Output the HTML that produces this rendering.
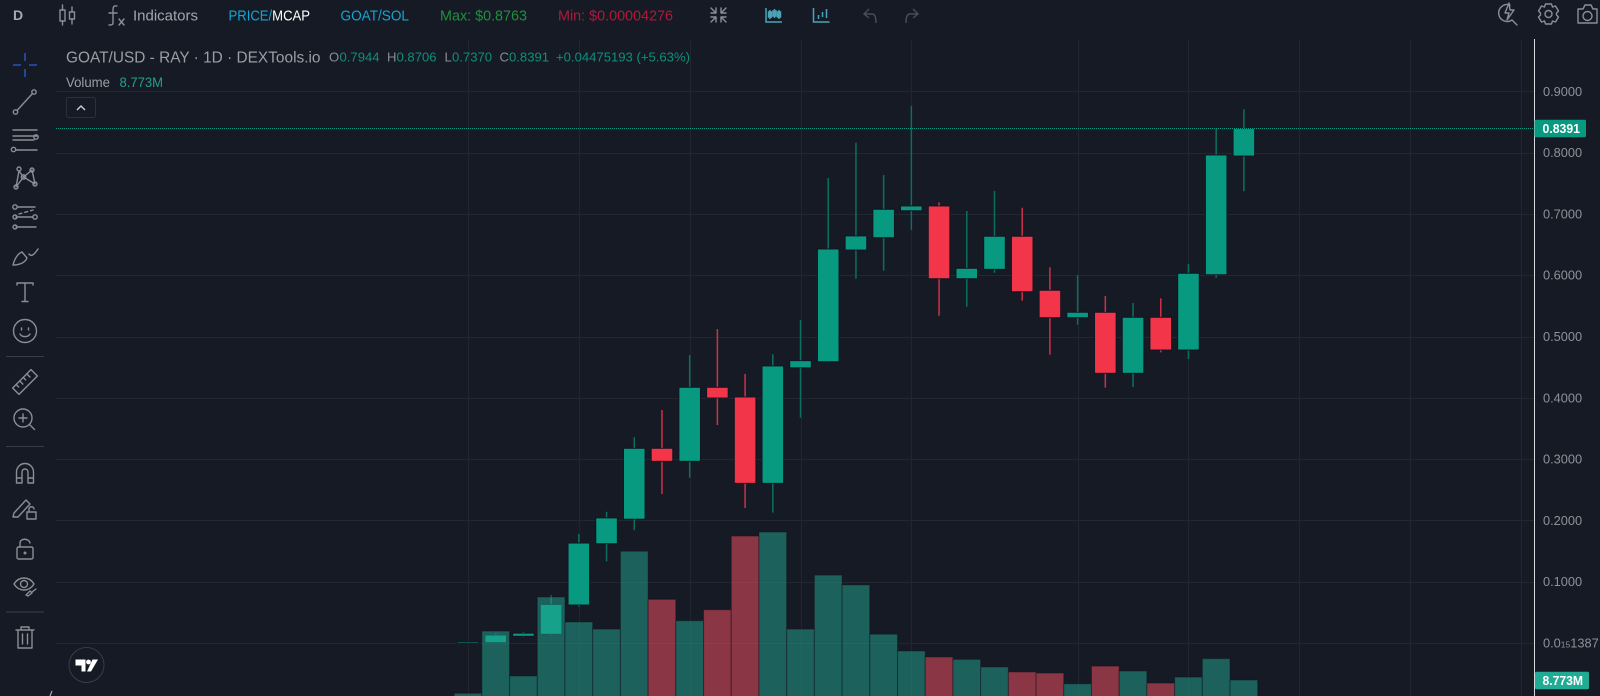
<!DOCTYPE html>
<html lang="en">
<head>
<meta charset="utf-8">
<title>GOAT/USD Candlestick Chart</title>
<style>
html,body{margin:0;padding:0;background:#161a25;width:1600px;height:696px;overflow:hidden}
svg{display:block;font-family:"Liberation Sans",sans-serif}
.ic{fill:none;stroke:#8b8e96;stroke-width:1.4;stroke-linecap:round;stroke-linejoin:round}
.ic2{fill:none;stroke:#4aa3b8;stroke-width:1.5}
.ic3{fill:none;stroke:#4a4d57;stroke-width:1.4}
</style>
</head>
<body>
<svg id="chart" xmlns="http://www.w3.org/2000/svg" width="1600" height="696" viewBox="0 0 1600 696">
<rect x="0" y="0" width="1600" height="696" fill="#161a25"/>
<g id="grid"></g>
<g id="candles"></g>
<g id="volumes"></g>
<g id="overlay"></g>
<line x1="1534.5" y1="39" x2="1534.5" y2="696" stroke="#d8d9dc" stroke-width="1"/>
<g id="yaxis"></g>

<!-- top toolbar -->
<g>
<text x="13" y="20" font-size="14" font-weight="bold" fill="#a8aab0">D</text>
<g class="ic" transform="translate(59,5)">
<rect x="1" y="5" width="5" height="11"/><path d="M3.5 0V5M3.5 16V20"/><rect x="10.5" y="7" width="5" height="7"/><path d="M13 2V7M13 14V19"/>
</g>
<g class="ic" transform="translate(108,5)">
<path d="M9 1C5 0 5 3 5 6V18C5 20 3 20 1 20M1 8H9"/><path d="M11 14L16 20M16 14L11 20"/>
</g>
<text x="133" y="20.500" font-size="15" fill="#a3a5ab" textLength="65" lengthAdjust="spacingAndGlyphs">Indicators</text>
<text x="228.500" y="20.500" font-size="15" textLength="81.500" lengthAdjust="spacingAndGlyphs"><tspan fill="#12a5d6">PRICE/</tspan><tspan fill="#ffffff">MCAP</tspan></text>
<text x="340.500" y="20.500" font-size="15" fill="#12a5d6" textLength="68.500" lengthAdjust="spacingAndGlyphs">GOAT/SOL</text>
<text x="440" y="20.500" font-size="15" fill="#1f8f3d" textLength="87" lengthAdjust="spacingAndGlyphs">Max: $0.8763</text>
<text x="558" y="20.500" font-size="15" fill="#b3173b" textLength="115" lengthAdjust="spacingAndGlyphs">Min: $0.00004276</text>
<g class="ic" transform="translate(710,7)">
<path d="M1 1L6 6M6 1V6H1M16 1L11 6M11 1V6H16M1 15L6 10M1 10H6V15M16 15L11 10M16 10H11V15"/>
</g>
<g class="ic2" transform="translate(765,7)">
<path d="M1 1V15H17"/><path d="M5 3V12M9.500 2V11M14 3V12"/><rect x="3.500" y="5" width="3" height="5" fill="#4aa3b8"/><rect x="8" y="4" width="3" height="5" fill="#4aa3b8"/><rect x="12.500" y="5" width="3" height="5" fill="#4aa3b8"/>
</g>
<g class="ic2" transform="translate(812.500,7)">
<path d="M1 1V15H17"/><path d="M6 8V12M10 5V10M14 2V11"/>
</g>
<g class="ic3" transform="translate(863,8)">
<path d="M6 1L1 6L6 10M1 6H9C12 6 13 9 13 15"/>
</g>
<g class="ic3" transform="translate(904,8)">
<path d="M9 1L14 6L9 10M14 6H6C3 6 2 9 2 15"/>
</g>
<g class="ic" transform="translate(1498,3)">
<path d="M12 2A8.500 8.500 0 1 0 14 17L19 22"/><path d="M11 0L7 10H11L9 17L16 7H12Z"/>
</g>
<g class="ic" transform="translate(1548.500,14)">
<circle r="3.500"/><path d="M-3 -10H3L4 -7L7 -8L10 -3L8 -1V1L10 3L7 8L4 7L3 10H-3L-4 7L-7 8L-10 3L-8 1V-1L-10 -3L-7 -8L-4 -7Z"/>
</g>
<g class="ic" transform="translate(1577,4)">
<path d="M1 5H6L8 1H14L16 5H20V19H1Z"/><circle cx="10.500" cy="12" r="4.500"/>
</g>
</g>

<!-- left toolbar -->
<g>
<g fill="none" stroke="#2453b8" stroke-width="1.6" transform="translate(25,65)">
<path d="M-12 0H-4M4 0H12M0 -12V-4M0 4V12"/>
</g>
<g class="ic" transform="translate(25,102)">
<circle cx="-9.500" cy="10" r="2.200"/><circle cx="9" cy="-10" r="2.200"/><path d="M-8 8.500L7.500 -8.500"/>
</g>
<g class="ic" transform="translate(25,140)">
<path d="M-12 -10H12M-12 -4H12M-12 0H9M-9 10H12"/><circle cx="11" cy="-3" r="2.200"/><circle cx="-11.500" cy="9.500" r="2.200"/>
</g>
<g class="ic" transform="translate(25,178)">
<circle cx="-6" cy="-9" r="2"/><circle cx="7" cy="-8" r="2"/><circle cx="-1.500" cy="-1" r="2.200"/><circle cx="-9" cy="9" r="2"/><circle cx="10" cy="6" r="2"/>
<path d="M-6 -7L-1.500 -1L7 -8L10 6L-1.500 -1L-9 9L-6 -7"/>
</g>
<g class="ic" transform="translate(25,217)">
<circle cx="-10" cy="-10" r="2.200"/><path d="M-8 -10H10M-9 0H8M-9 10H11"/><circle cx="-10" cy="0" r="2"/><circle cx="10" cy="0" r="2.200"/><circle cx="-10" cy="10" r="2"/>
<path d="M-6 -3L8 -7" stroke-dasharray="3 3"/>
</g>
<g class="ic" transform="translate(25,255)">
<path d="M-12 10C-10 2 -6 -2 -3 -3L2 3C0 8 -6 10 -12 10Z"/><path d="M4 -1C6 2 9 0 13 -6"/>
</g>
<g class="ic" transform="translate(25,292)">
<path d="M-8 -7V-9H8V-7M0 -9V9M-3 9.500H3"/>
</g>
<g class="ic" transform="translate(25,331)">
<circle r="11.500"/><path d="M-3.500 -3V-1M3.500 -3V-1M-5 3C-3 6.500 3 6.500 5 3"/>
</g>
<line x1="6" y1="356.500" x2="44" y2="356.500" stroke="#3a3d47"/>
<g class="ic" transform="translate(25,382) rotate(-45)">
<rect x="-13" y="-4.500" width="26" height="9"/><path d="M-8 -4.500V-1M-3 -4.500V0M2 -4.500V-1M7 -4.500V0"/>
</g>
<g class="ic" transform="translate(23,418)">
<circle r="9"/><path d="M-4 0H4M0 -4V4M7 7L11.500 11.500"/>
</g>
<line x1="6" y1="446.500" x2="44" y2="446.500" stroke="#3a3d47"/>
<g class="ic" transform="translate(25,473)">
<path d="M-8.500 10V-1A8.500 8.500 0 0 1 8.500 -1V10H3V-1A3 3 0 0 0 -3 -1V10ZM-8.500 5H-3M3 5H8.500"/>
</g>
<g class="ic" transform="translate(25,509)">
<path d="M-11 4L1 -9L5 -5L-7 8L-12 8Z"/><rect x="2" y="3" width="9" height="7"/><path d="M4 3V0C4 -3 9 -3 9 0"/>
</g>
<g class="ic" transform="translate(25,549)">
<rect x="-8" y="-2" width="16" height="12" rx="1.500"/><path d="M-5 -2V-6C-5 -11 4 -11 5 -6"/><circle cy="4" r="0.800"/>
</g>
<g class="ic" transform="translate(24,584)">
<path d="M-10 0C-5 -8 5 -8 10 0C5 8 -5 8 -10 0Z"/><circle r="3.500"/><path d="M2 11L6 7L8 9L4 12ZM8 8L12 5"/>
</g>
<line x1="6" y1="612" x2="44" y2="612" stroke="#3a3d47"/>
<g class="ic" transform="translate(25,638)">
<path d="M-9 -8H9M-4 -8V-11H4V-8M-7 -8V10H7V-8M-2.500 -4V6M2.500 -4V6"/>
</g>
<g transform="translate(86.500,665)">
<circle r="17.500" fill="#161a25" stroke="#3a3d47" stroke-width="1"/>
<path d="M-11 -5.500H-1V6.500H-5V0.500H-11ZM4.500 6.500H0.500L6 -5.500H11.500Z" fill="#ffffff"/>
<circle cx="2" cy="-3" r="2.400" fill="#ffffff"/>
</g>
<path d="M52 691L50 696" fill="none" stroke="#a8aab0" stroke-width="1.2"/>
</g>

<!-- legend -->
<g>
<text x="66" y="62.500" font-size="15.800" fill="#9c9ea5" textLength="254.500" lengthAdjust="spacingAndGlyphs">GOAT/USD - RAY · 1D · DEXTools.io</text>
<text y="61.500" font-size="13.100" fill="#0f8f7c">
<tspan x="329" fill="#888b93">O</tspan><tspan x="339.500">0.7944</tspan>
<tspan x="387" fill="#888b93">H</tspan><tspan x="396.500">0.8706</tspan>
<tspan x="444.500" fill="#888b93">L</tspan><tspan x="452">0.7370</tspan>
<tspan x="499.500" fill="#888b93">C</tspan><tspan x="509">0.8391</tspan>
<tspan x="556">+0.04475193 (+5.63%)</tspan>
</text>
<text x="66" y="87" font-size="13.600" fill="#9c9ea5" textLength="44" lengthAdjust="spacingAndGlyphs">Volume</text>
<text x="119.500" y="87" font-size="13.400" fill="#22a08f" textLength="43.500" lengthAdjust="spacingAndGlyphs">8.773M</text>
<g>
<rect x="66.500" y="97.500" width="29" height="20" rx="2" fill="#161a25" stroke="#2c303b"/>
<path d="M77 110L81 106L85 110" fill="none" stroke="#c8c9cd" stroke-width="1.500"/>
</g>
</g>
</svg>
<script>
var opens = [0.0003,0.0005,0.0110,0.0142,0.0620,0.1620,0.2020,0.3176,0.2964,0.4171,0.4013,0.2605,0.4490,0.4589,0.6411,0.6612,0.7052,0.7129,0.5943,0.6096,0.6635,0.5754,0.5307,0.5395,0.4400,0.5313,0.4780,0.6008,0.7944];
var highs = [0.0020,0.0160,0.0180,0.0780,0.1780,0.2140,0.3356,0.3801,0.4698,0.5122,0.4388,0.4710,0.5269,0.7586,0.8161,0.7635,0.8763,0.7189,0.7047,0.7374,0.7101,0.6129,0.6003,0.5661,0.5547,0.5623,0.6183,0.8390,0.8706];
var lows = [0.0002,0.0003,0.0095,0.0125,0.0590,0.1330,0.1840,0.2430,0.2697,0.3556,0.2202,0.2126,0.3675,0.4580,0.5943,0.6073,0.6737,0.5339,0.5486,0.6040,0.5584,0.4703,0.5192,0.4165,0.4176,0.4742,0.4633,0.5959,0.7370];
var closes = [0.0015,0.0130,0.0160,0.0630,0.1630,0.2040,0.3176,0.2964,0.4171,0.3997,0.2605,0.4519,0.4605,0.6427,0.6640,0.7075,0.7129,0.5943,0.6112,0.6635,0.5731,0.5307,0.5395,0.4400,0.5313,0.4780,0.6031,0.7961,0.8391];
var volumesM = [1.5,35.6,11.0,54.3,40.6,36.7,79.4,53.0,41.3,47.3,87.7,89.9,36.7,66.3,60.9,33.9,24.7,21.4,20.1,15.9,13.2,12.6,6.7,16.4,13.7,7.1,10.4,20.5,8.773];
var volumeUp = [1,1,1,1,1,1,1,0,1,0,0,1,1,1,1,1,1,0,1,1,0,0,1,0,1,0,1,1,1];
var priceTicks = [0.9,0.8,0.7,0.6,0.5,0.4,0.3,0.2,0.1,0];
var priceTickLabels = ["0.9000","0.8000","0.7000","0.6000","0.5000","0.4000","0.3000","0.2000","0.1000","0.0_15_1387"];
var timeGridBars = [0,4,8,12,16,22,26,30,34,38];

var NS = "http://www.w3.org/2000/svg";
function xAt(i){ return 468 + 27.71 * i; }
function yPrice(v){ return 643 - 613 * v; }
function yVolume(m){ return 696 - 1.824 * m; }
function make(tag, parent, attrs){
  var el = document.createElementNS(NS, tag);
  for (var k in attrs) el.setAttribute(k, attrs[k]);
  parent.appendChild(el);
  return el;
}
var grid = document.getElementById("grid");
var volumesG = document.getElementById("volumes");
var candlesG = document.getElementById("candles");
var overlay = document.getElementById("overlay");
var yaxis = document.getElementById("yaxis");

priceTicks.forEach(function(v, i){
  var y = Math.round(yPrice(v)) + 0.5;
  var line = make("line", grid, {x1:56, x2:1534, y1:y, y2:y, stroke:"#23272f", "stroke-width":1});
  
  
  var t = make("text", yaxis, {x:1543, y:yPrice(v) + 4.5, "font-size":12.8, fill:"#8f9198"});
  
  
  priceTickLabels[i].split("_").forEach(function(part, j){
    var s = make("tspan", t, j === 1 ? {"font-size":8.5} : {});
    s.textContent = part;
  });
});
timeGridBars.forEach(function(b){
  var x = Math.round(xAt(b)) + 0.5;
  var line = make("line", grid, {x1:x, x2:x, y1:40, y2:696, stroke:"#21252f", "stroke-width":1});
  
  
});
opens.forEach(function(o, i){
  var c = closes[i], up = c >= o, x = xAt(i);
  var yTop = yPrice(Math.max(o, c)), yBot = yPrice(Math.min(o, c));
  var g = make("g", candlesG, {});
  
  
  var wick = make("line", g, {x1:x, x2:x, y1:yPrice(highs[i]), y2:yPrice(lows[i]), stroke:up ? "#0b6f60" : "#cf3048", "stroke-width":1.5});
  
  
  var body = make("rect", g, {x:x - 10.75, y:yTop, width:21.5, height:Math.max(1.5, yBot - yTop), fill:up ? "#089a80" : "#f23548", stroke:"#121322", "stroke-width":0.9});
  
  
});
volumesM.forEach(function(m, i){
  var top = yVolume(m);
  var bar = make("rect", volumesG, {
    x:xAt(i) - 13.85, y:top, width:27.7, height:Math.max(0, 697 - top),
    fill:volumeUp[i] ? "rgba(34,168,147,0.5)" : "rgba(254,82,99,0.5)",
    stroke:"rgba(16,18,28,0.45)", "stroke-width":1
  });
  
  
});
var lastClose = closes[closes.length - 1];
var lastVolume = volumesM[volumesM.length - 1];
var priceY = Math.floor(yPrice(lastClose)) + 0.5;
var priceLine = make("line", overlay, {x1:56, x2:1534, y1:priceY, y2:priceY, stroke:"#109a84", "stroke-width":1, "stroke-dasharray":"1 1"});


var priceBox = make("rect", yaxis, {x:1534.5, y:priceY - 8.8, width:51.5, height:17.6, rx:1.5, fill:"#089981"});


var priceText = make("text", yaxis, {x:1542.5, y:priceY + 4.5, "font-size":12.8, "font-weight":"bold", fill:"#ffffff", textLength:37.5, lengthAdjust:"spacingAndGlyphs"});


priceText.textContent = lastClose.toFixed(4);
var volY = yVolume(lastVolume);
var volBox = make("rect", yaxis, {x:1535, y:volY - 8.3, width:54, height:17.6, rx:1.5, fill:"#22ab94"});


var volText = make("text", yaxis, {x:1542.5, y:volY + 5, "font-size":12.8, "font-weight":"bold", fill:"#ffffff", textLength:40.5, lengthAdjust:"spacingAndGlyphs"});


volText.textContent = lastVolume.toFixed(3) + "M";
</script>
</body>
</html>
